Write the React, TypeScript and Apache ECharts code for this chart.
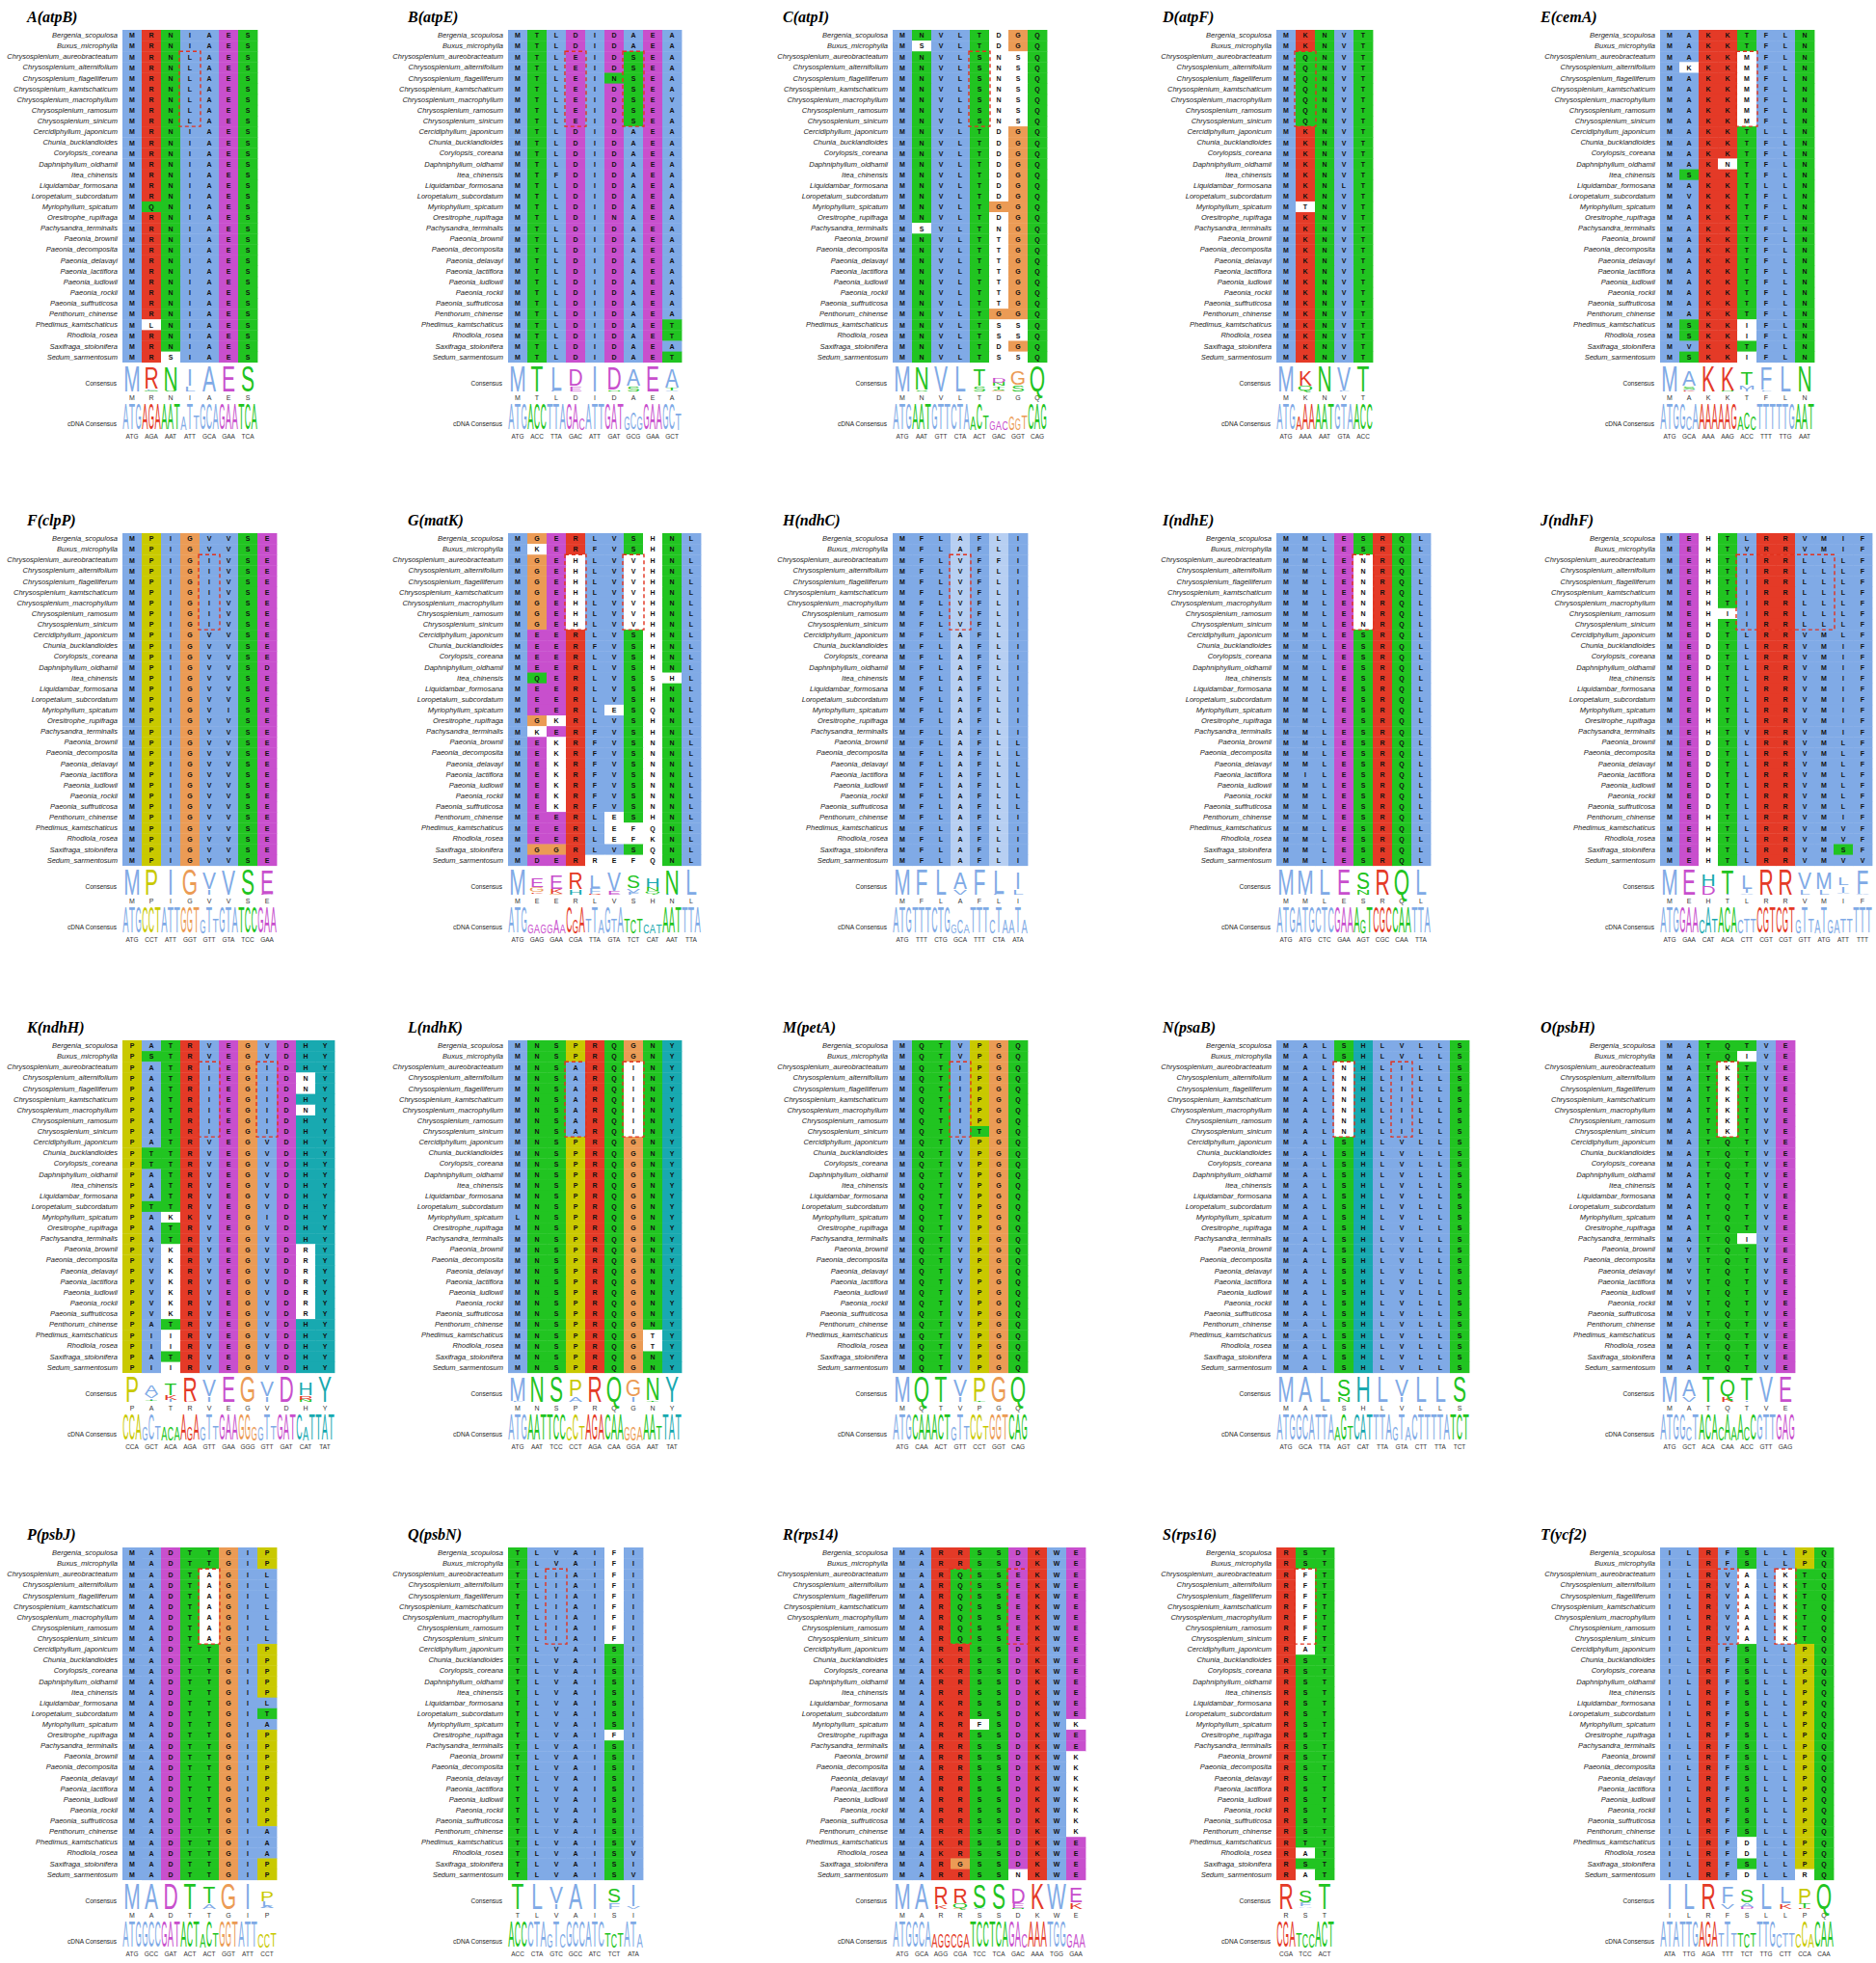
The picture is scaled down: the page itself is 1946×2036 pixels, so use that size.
import React, { useEffect, useRef } from 'react';
import * as echarts from 'echarts';

// ---------------- DATA ----------------
const species = [
  'Bergenia_scopulosa', 'Buxus_microphylla', 'Chrysosplenium_aureobracteatum', 'Chrysosplenium_alternifolium',
  'Chrysosplenium_flagelliferum', 'Chrysosplenium_kamtschaticum', 'Chrysosplenium_macrophyllum', 'Chrysosplenium_ramosum',
  'Chrysosplenium_sinicum', 'Cercidiphyllum_japonicum', 'Chunia_bucklandioides', 'Corylopsis_coreana',
  'Daphniphyllum_oldhamii', 'Itea_chinensis', 'Liquidambar_formosana', 'Loropetalum_subcordatum',
  'Myriophyllum_spicatum', 'Oresitrophe_rupifraga', 'Pachysandra_terminalis', 'Paeonia_brownii',
  'Paeonia_decomposita', 'Paeonia_delavayi', 'Paeonia_lactiflora', 'Paeonia_ludlowii', 'Paeonia_rockii',
  'Paeonia_suffruticosa', 'Penthorum_chinense', 'Phedimus_kamtschaticus', 'Rhodiola_rosea',
  'Saxifraga_stolonifera', 'Sedum_sarmentosum',
];

const panelTitles = ['A(atpB)', 'B(atpE)', 'C(atpI)', 'D(atpF)', 'E(cemA)', 'F(clpP)', 'G(matK)', 'H(ndhC)', 'I(ndhE)', 'J(ndhF)',
  'K(ndhH)', 'L(ndhK)', 'M(petA)', 'N(psaB)', 'O(psbH)', 'P(psbJ)', 'Q(psbN)', 'R(rps14)', 'S(rps16)', 'T(ycf2)'];

const consensusResidues = ['MRNIAES', 'MTLDIDAEA', 'MNVLTDGQ', 'MKNVT', 'MAKKTFLN', 'MPIGVVSE', 'MEERLVSHNL', 'MFLAFLI',
  'MMLESRQL', 'MEHTLRRVMIF', 'PATRVEGVDHY', 'MNSPRQGNY', 'MQTVPGQ', 'MALSHLVLLS', 'MATQTVE', 'MADTTGIP', 'TLVAISI',
  'MARRSSDKWE', 'RST', 'ILRFSLLPQ'];

const cdnaCodons = [
  'ATG AGA AAT ATT GCA GAA TCA', 'ATG ACC TTA GAC ATT GAT GCG GAA GCT', 'ATG AAT GTT CTA ACT GAC GGT CAG',
  'ATG AAA AAT GTA ACC', 'ATG GCA AAA AAG ACC TTT TTG AAT', 'ATG CCT ATT GGT GTT GTA TCC GAA',
  'ATG GAG GAA CGA TTA GTA TCT CAT AAT TTA', 'ATG TTT CTG GCA TTT CTA ATA', 'ATG ATG CTC GAA AGT CGC CAA TTA',
  'ATG GAA CAT ACA CTT CGT CGT GTT ATG ATT TTT', 'CCA GCT ACA AGA GTT GAA GGG GTT GAT CAT TAT',
  'ATG AAT TCC CCT AGA CAA GGA AAT TAT', 'ATG CAA ACT GTT CCT GGT CAG', 'ATG GCA TTA AGT CAT TTA GTA CTT TTA TCT',
  'ATG GCT ACA CAA ACC GTT GAG', 'ATG GCC GAT ACT ACT GGT ATT CCT', 'ACC CTA GTC GCC ATC TCT ATA',
  'ATG GCA AGG CGA TCC TCA GAC AAA TGG GAA', 'CGA TCC ACT', 'ATA TTG AGA TTT TCT TTG CTT CCA CAA'];

// relative letter heights (0-9) of the cDNA consensus logo, one digit per nucleotide
const cdnaHeights = [
  '999999999595999999999', '999999999994999999565999996', '999999999999595333545999', '999599999999999',
  '999959999999565999999999', '999999999999595999999999', '999333353959595959555333999999', '999999999353999595595',
  '999999999999959999999999', '999999595999555999999595595555999', '999595555959595999995595999959999',
  '999999999595999999555995999', '999999999595995999999', '999999999595999999595999999999', '999959999595959999999',
  '999999999999595999999555', '999999595999999555995', '999999555555999999995999999555', '999555999',
  '999999999595555999555595999'];

// alignment rows as runs [sequence, repeat]; lowercase = residue shown on white
const alnA = [['MRNIAES', 2], ['MRNLAES', 7], ['MRNIAES', 7], ['MQNIAES', 1], ['MRNIAES', 10], ['MlNIAES', 1], ['MRNIAES', 2], ['MRsIAES', 1]];
const alnB = [['MTLDIDAEA', 2], ['MTLEIDSEA', 2], ['MTLEINSEA', 1], ['MTLEIDSEA', 1], ['MTLEIDSEV', 1], ['MTLEIDSEA', 2], ['MTLDIDAEA', 4],
  ['MTFDIDAEA', 1], ['MTLDIDAEA', 3], ['MTLDINAEA', 1], ['MTLDIDAEA', 9], ['MTLDIDAET', 2], ['MTLDIDAEA', 1], ['MTLDIDAET', 1]];
const alnC = [['MNVLTdGQ', 1], ['MsVLTdGQ', 1], ['MNVLSnsQ', 7], ['MNVLTdGQ', 7], ['MNVLTGGQ', 1], ['MNVLTdGQ', 1], ['MsVLTnGQ', 1],
  ['MNVLTtGQ', 7], ['MNVLTGGQ', 1], ['MNVLTssQ', 2], ['MNVLTdGQ', 1], ['MNVLTssQ', 1]];
const alnD = [['MKNVT', 2], ['MQNVT', 7], ['MKNVT', 5], ['MKNLT', 1], ['MKNVT', 1], ['MtNVT', 1], ['MKNVT', 14]];
const alnE = [['MAKKTFLN', 2], ['MAKKmFLN', 1], ['MkKKmFLN', 1], ['MAKKmFLN', 5], ['MAKKTLLN', 1], ['MAKKTFLN', 2], ['MAKnTFLN', 1],
  ['MSKKTFLN', 1], ['MAKKTLLN', 1], ['MVKKTFLN', 1], ['MAKKTFLN', 11], ['MSKKiFLN', 2], ['MVKKTFLN', 1], ['MSKKiFLN', 1]];
const alnF = [['MPIGVVSE', 2], ['MPIGIVSE', 7], ['MPIGVVSE', 3], ['MPIGVVSD', 1], ['MPIGVVSE', 3], ['MPIGVISE', 1], ['MPIGVVSE', 14]];
const alnG = [['MGERLVShNL', 1], ['MkERFVShNL', 1], ['MGEhLVvhNL', 7], ['MEERLVShNL', 1], ['MEERFVShNL', 1], ['MEERLVShNL', 2],
  ['MQERLVSshL', 1], ['MEERLVShNL', 2], ['MEERLeSqNL', 1], ['MGkRLVShNL', 1], ['MkERFVShNL', 1], ['MEkRFVSnNL', 7],
  ['MEERLeShNL', 1], ['MEERLefqNL', 1], ['MEERLefkNL', 1], ['MGGRLVSqNL', 1], ['MDERrefqNL', 1]];
const alnH = [['MFLAFLI', 2], ['MFLVFFI', 1], ['MFLVFLI', 6], ['MFLAFLI', 10], ['MFLAFLL', 7], ['MFLAFLI', 5]];
const alnI = [['MMLESRQL', 2], ['MMLEnRQL', 7], ['MMLESRQL', 13], ['MILESRQL', 1], ['MMLESRQL', 8]];
const alnJ = [['MEhTLRRVMIF', 1], ['MEhTVRRVMIF', 1], ['MEhTIRRLLLF', 5], ['MEhiIRRLLLF', 1], ['MEhTIRRLLLF', 1], ['MEdTLRRVMLF', 1],
  ['MEdTLRRVMIF', 3], ['MEhTLRRVMIF', 1], ['MEdTLRRVMIF', 2], ['MEhTLRRVMIF', 2], ['MEhTVRRVMIF', 1], ['MEdTLRRVMLF', 7],
  ['MEhTLRRVMIF', 1], ['MEhTLRRVMVF', 2], ['MEhTLRRVMSF', 1], ['MEhTLRRVMVV', 1]];
const alnK = [['PATRVEGVDHY', 1], ['PSTRVEGVDHY', 1], ['PATRIEGIDHY', 1], ['PATRIEGIDnY', 2], ['PATRIEGIDHY', 1], ['PATRIEGIDnY', 1],
  ['PATRIEGIDHY', 2], ['PATRVEGVDHY', 1], ['PTTRVEGVDHY', 2], ['PATRVEGVDHY', 3], ['PTTRVEGVDHY', 1], ['PAkKVEGIDHY', 1],
  ['PATRVEGVDHY', 2], ['PVkRVEGVDrY', 7], ['PATRVEGVDHY', 1], ['PIiRVEGVDHY', 2], ['PATRVEGVDHY', 1], ['PIiRVEGVDHY', 1]];
const alnL = [['MNSPRQGNY', 2], ['MNSARQiNY', 7], ['MNSPRQGNY', 7], ['LNSPRQGNY', 1], ['MNSPRQGNY', 10], ['MNSPRQGtY', 2], ['MNSPRQGNY', 2]];
const alnM = [['MQTVPGQ', 2], ['MQTIPGQ', 6], ['MQTITGQ', 1], ['MQTVPGQ', 22]];
const alnN = [['MALSHLVLLS', 2], ['MALnHLILLS', 7], ['MALSHLVLLS', 22]];
const alnO = [['MATQTVE', 1], ['MATQiVE', 1], ['MATkTVE', 7], ['MATQTVE', 9], ['MATQiVE', 1], ['MVTQTVE', 7], ['MATQTVE', 5]];
const alnP = [['MADTTGIP', 2], ['MADTaGIL', 7], ['MADTTGIP', 5], ['MADTTGIL', 1], ['MADTTGIT', 1], ['MADTTGIA', 1], ['MADTTGIP', 9],
  ['MADTTGIA', 3], ['MADTTGIP', 2]];
const alnQ = [['TLVAIfI', 2], ['TLIAIfI', 7], ['TLVAISI', 8], ['TLVAIfI', 1], ['TLVAISI', 9], ['TLVAISV', 2], ['TLVAISI', 1], ['TLVAISV', 1]];
const alnR = [['MARRSSDKWE', 2], ['MARQSSEKWE', 7], ['MARRSSDKWE', 1], ['MAKRSSDKWE', 2], ['MARRSSDKWE', 2], ['MAKRSSDKWE', 2],
  ['MARRfSDKWk', 1], ['MARRSSDKWE', 2], ['MARRSSDKWk', 8], ['MAKRSSDKWE', 2], ['MARGSSDKWE', 1], ['MARRSSnKWE', 1]];
const alnS = [['RST', 2], ['RfT', 7], ['RaT', 1], ['RST', 17], ['RTT', 1], ['RaT', 1], ['RST', 1], ['RaT', 1]];
const alnT = [['ILRFSLLPQ', 2], ['ILRVaLkTQ', 7], ['ILRFSLLPQ', 18], ['ILRFdLLPQ', 2], ['ILRFSLLPQ', 1], ['ILRFdLLrQ', 1]];

const alignments = [alnA, alnB, alnC, alnD, alnE, alnF, alnG, alnH, alnI, alnJ, alnK, alnL, alnM, alnN, alnO, alnP, alnQ, alnR, alnS, alnT];

// columns framed by the red dashed box (rows of Chrysosplenium)
const boxedColumns = [[[3, 3]], [[3, 3], [6, 6]], [[4, 4]], [[1, 1]], [[4, 4]], [[4, 4]], [[3, 3], [6, 6]], [[3, 3]], [[4, 4]], [[4, 8]],
  [[4, 4], [7, 7]], [[3, 3], [6, 6]], [[3, 3]], [[3, 3], [6, 6]], [[3, 3]], [[4, 4]], [[2, 2]], [[3, 3], [6, 6]], [[1, 1]], [[3, 3], [6, 6]]];

// columns drawn in pale blue (panel H)
const paleColumns = [[], [], [], [], [], [], [], [3, 5], [], [], [], [], [], [], [], [], [], [], [], []];
// single cells whose colour class differs from residue: [panel, row, col, class-letter]
const cellOverrides = [[1, 17, 5, 'D']];

// ---------------- STYLE / LAYOUT ----------------
const PANEL_LEFT = [127, 527, 926, 1324, 1722];
const PANEL_TOP = [31, 553, 1079, 1605];
const TITLE_LEFT = [23, 418, 807, 1201, 1593];
const COL_W = 20;
const ROW_H = 11.12;
const FONT = '"Liberation Sans", Arial, sans-serif';

const COLORS: Record<string, string> = {
  blue: '#80aae6', red: '#e43a27', magenta: '#c84fcd', green: '#21c421', orange: '#eb9b55',
  yellow: '#c9c900', cyan: '#18a9b0', pale: '#b7cff2', white: '#ffffff',
};
const residueClass = (ch: string) => {
  const u = ch.toUpperCase();
  if ('AILMFWVC'.includes(u)) return 'blue';
  if ('KR'.includes(u)) return 'red';
  if ('ED'.includes(u)) return 'magenta';
  if ('NQST'.includes(u)) return 'green';
  if (u === 'G') return 'orange';
  if (u === 'P') return 'yellow';
  if ('HY'.includes(u)) return 'cyan';
  return 'white';
};
const NUC_W: Record<string, number> = { A: 0.667, C: 0.722, G: 0.778, T: 0.611 };

function expand(runs: any[]): string[] {
  const out: string[] = [];
  runs.forEach(([s, n]) => { for (let i = 0; i < n; i++) out.push(s); });
  return out;
}

function buildOption() {
  const grid: any[] = [], xAxis: any[] = [], yAxis: any[] = [], series: any[] = [], title: any[] = [], graphic: any[] = [];
  const MAXBITS = Math.log2(20);

  alignments.forEach((runs, p) => {
    const pc = p % 5, pr = Math.floor(p / 5);
    const left = PANEL_LEFT[pc], top = PANEL_TOP[pr];
    const rows = expand(runs);
    const cons = consensusResidues[p];
    const ncol = cons.length;
    const width = ncol * COL_W;
    const alnH = species.length * ROW_H;
    const g0 = grid.length;

    title.push({
      text: panelTitles[p], left: TITLE_LEFT[pc], top: top - 27,
      textStyle: { fontFamily: '"Liberation Serif", serif', fontStyle: 'italic', fontWeight: 'bold', fontSize: 16, color: '#000' },
    });

    // --- alignment grid
    grid.push({ left, top, width, height: alnH });
    xAxis.push({ gridIndex: g0, type: 'category', data: cons.split(''), show: false });
    yAxis.push({
      gridIndex: g0, type: 'category', data: species, inverse: true,
      axisLine: { show: false }, axisTick: { show: false },
      axisLabel: { interval: 0, fontSize: 7.5, fontStyle: 'italic', fontFamily: FONT, color: '#222', margin: 5 },
    });
    const cells: { c: number; r: number; ch: string; bg: string }[] = [];
    rows.forEach((s, r) => {
      s.split('').forEach((ch, c) => {
        let bg = ch === ch.toUpperCase() ? COLORS[residueClass(ch)] : COLORS.white;
        if (ch === ch.toUpperCase() && paleColumns[p].includes(c)) bg = COLORS.pale;
        cellOverrides.forEach(([pp, rr, cc, cl]) => { if (pp === p && rr === r && cc === c) bg = COLORS[residueClass(cl as string)]; });
        cells.push({ c, r, ch: ch.toUpperCase(), bg });
      });
    });
    series.push({
      type: 'custom', xAxisIndex: g0, yAxisIndex: g0, silent: true,
      data: cells.map((d) => [d.c, d.r]),
      renderItem: (params: any, api: any) => {
        const d = cells[params.dataIndex];
        const pt = api.coord([api.value(0), api.value(1)]);
        const sz = api.size([1, 1]);
        return {
          type: 'group', children: [
            { type: 'rect', shape: { x: pt[0] - sz[0] / 2, y: pt[1] - sz[1] / 2, width: sz[0] + 0.4, height: sz[1] + 0.4 }, style: { fill: d.bg } },
            { type: 'text', x: pt[0], y: pt[1] + 0.3, style: { text: d.ch, fill: '#111', font: `bold 7px ${FONT}`, align: 'center', verticalAlign: 'middle' } },
          ],
        };
      },
    });
    const boxes = boxedColumns[p];
    series.push({
      type: 'custom', xAxisIndex: g0, yAxisIndex: g0, silent: true, z: 5,
      data: boxes.map((b) => [b[0], b[1]]),
      renderItem: (params: any, api: any) => {
        const a = api.coord([api.value(0), 2]);
        const b = api.coord([api.value(1), 8]);
        const sz = api.size([1, 1]);
        return {
          type: 'rect',
          shape: { x: a[0] - sz[0] / 2 - 1, y: a[1] - sz[1] / 2, width: b[0] - a[0] + sz[0] + 2, height: b[1] - a[1] + sz[1] },
          style: { fill: 'none', stroke: '#e2321f', lineWidth: 1.4, lineDash: [4, 3] },
        };
      },
    });

    // --- protein consensus logo
    const g1 = grid.length;
    const logoTop = top + alnH + 3;
    grid.push({ left, top: logoTop, width, height: 27 });
    xAxis.push({
      gridIndex: g1, type: 'category', data: cons.split(''),
      axisLine: { show: false }, axisTick: { show: false },
      axisLabel: { interval: 0, fontSize: 7, fontFamily: FONT, color: '#333', margin: 3 },
    });
    yAxis.push({ gridIndex: g1, type: 'value', min: 0, max: MAXBITS, show: false });
    const logo: { c: number; y0: number; y1: number; ch: string }[] = [];
    for (let c = 0; c < ncol; c++) {
      const counts: Record<string, number> = {};
      rows.forEach((s) => { const u = s[c].toUpperCase(); counts[u] = (counts[u] || 0) + 1; });
      const n = rows.length;
      let H = 0;
      Object.values(counts).forEach((k) => { const f = k / n; H -= f * Math.log2(f); });
      const R = MAXBITS - H;
      const items = Object.entries(counts).sort((a, b) => a[1] - b[1]);
      let y = 0;
      items.forEach(([ch, k]) => {
        const h = (k / n) * R;
        logo.push({ c, y0: y, y1: y + h, ch });
        y += h;
      });
    }
    series.push({
      type: 'custom', xAxisIndex: g1, yAxisIndex: g1, silent: true,
      data: logo.map((d) => [d.c, d.y0, d.y1]),
      renderItem: (params: any, api: any) => {
        const d = logo[params.dataIndex];
        const p0 = api.coord([api.value(0), api.value(1)]);
        const p1 = api.coord([api.value(0), api.value(2)]);
        const h = p0[1] - p1[1];
        if (h < 0.6) return null;
        const F = 20;
        return {
          type: 'text', x: p0[0], y: (p0[1] + p1[1]) / 2, scaleX: 1.05, scaleY: h / (0.716 * F),
          style: { text: d.ch, fill: COLORS[residueClass(d.ch)], font: `${F}px ${FONT}`, align: 'center', verticalAlign: 'middle' },
        };
      },
    });

    // --- cDNA consensus logo
    const g2 = grid.length;
    const cdnaTop = logoTop + 41;
    grid.push({ left, top: cdnaTop, width, height: 26 });
    const codons = cdnaCodons[p].split(' ');
    xAxis.push({
      gridIndex: g2, type: 'category', data: codons,
      axisLine: { show: false }, axisTick: { show: false },
      axisLabel: { interval: 0, fontSize: 6.5, fontFamily: FONT, color: '#333', margin: 3 },
    });
    yAxis.push({ gridIndex: g2, type: 'value', min: 0, max: 2, show: false });
    const nuc: { c: number; k: number; h: number; ch: string; color: string }[] = [];
    const hs = cdnaHeights[p];
    codons.forEach((cod, c) => {
      cod.split('').forEach((ch, k) => {
        const dgt = parseInt(hs[c * 3 + k] ?? '9', 10);
        nuc.push({ c, k, h: (isNaN(dgt) ? 9 : dgt) / 9 * 2, ch, color: COLORS[residueClass(cons[c])] });
      });
    });
    series.push({
      type: 'custom', xAxisIndex: g2, yAxisIndex: g2, silent: true,
      data: nuc.map((d) => [d.c, d.k, d.h]),
      renderItem: (params: any, api: any) => {
        const d = nuc[params.dataIndex];
        const p0 = api.coord([api.value(0), 0]);
        const p1 = api.coord([api.value(0), api.value(2)]);
        const bw = api.size([1, 0])[0];
        const h = p0[1] - p1[1];
        if (h < 0.6) return null;
        const F = 14;
        return {
          type: 'text', x: p0[0] + (api.value(1) - 1) * bw / 3, y: (p0[1] + p1[1]) / 2,
          scaleX: (bw / 3 - 0.4) / (NUC_W[d.ch] * F), scaleY: h / (0.716 * F),
          style: { text: d.ch, fill: d.color, font: `${F}px ${FONT}`, align: 'center', verticalAlign: 'middle' },
        };
      },
    });

    graphic.push({
      type: 'text', x: left - 6, y: logoTop + 19,
      style: { text: 'Consensus', font: `6.5px ${FONT}`, fill: '#222', align: 'right', verticalAlign: 'middle' },
    });
    graphic.push({
      type: 'text', x: left - 6, y: cdnaTop + 20,
      style: { text: 'cDNA Consensus', font: `6.5px ${FONT}`, fill: '#222', align: 'right', verticalAlign: 'middle' },
    });
  });

  return { animation: false, backgroundColor: '#ffffff', title, grid, xAxis, yAxis, series, graphic };
}

export default function App() {
  const ref = useRef<HTMLDivElement>(null);
  useEffect(() => {
    if (!ref.current) return;
    const chart = echarts.init(ref.current, undefined, { renderer: 'svg' });
    chart.setOption(buildOption() as any);
    return () => chart.dispose();
  }, []);
  return <div ref={ref} style={{ position: 'absolute', left: 0, top: 0, width: 1946, height: 2036 }} />;
}
